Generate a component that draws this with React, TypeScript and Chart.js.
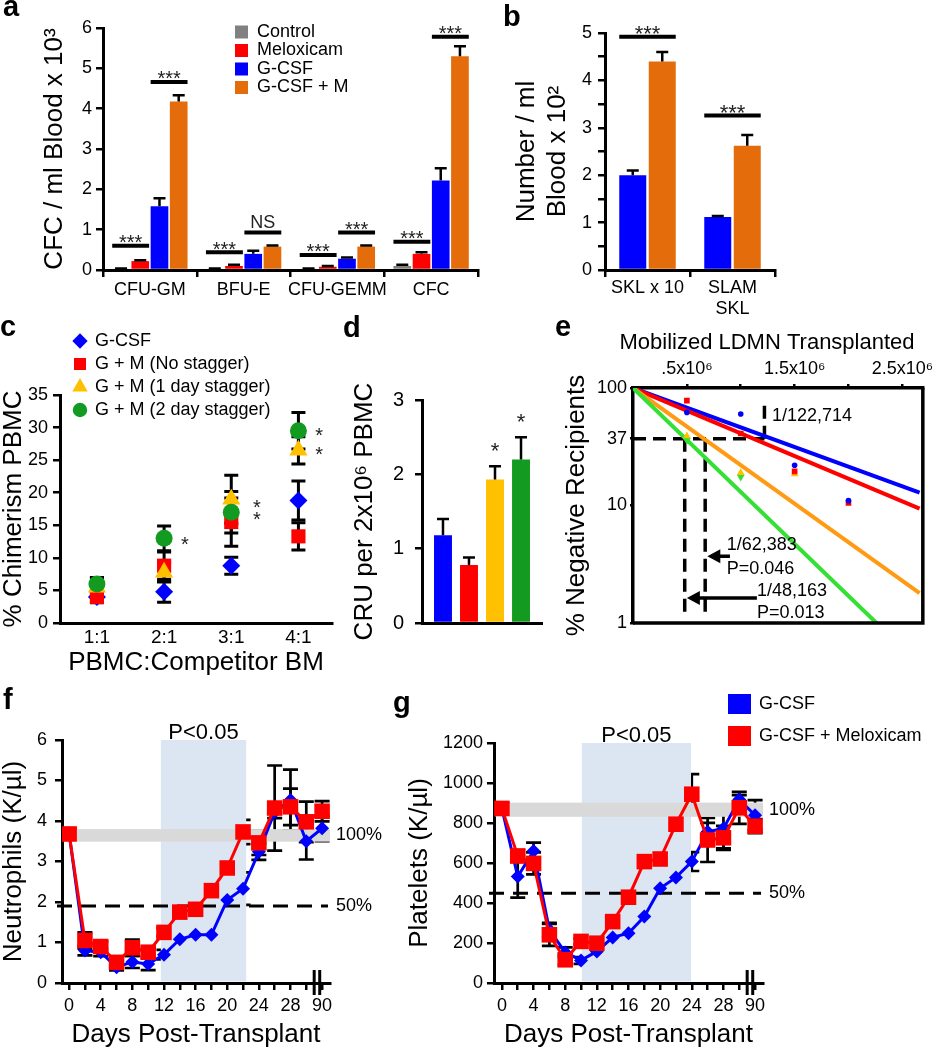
import React, { useEffect, useRef } from 'react';
import { Chart, registerables } from 'chart.js';

Chart.register(...registerables);

const PAGE_W = 938;
const PAGE_H = 1050;
const FONT = "'Liberation Sans', 'DejaVu Sans', Arial, sans-serif";
Chart.defaults.font.family = FONT;
Chart.defaults.color = '#000';

const BLUE = '#0000ff';
const RED = '#ff0000';
const GRAY = '#808080';
const ORANGE = '#e46c0a';
const YELLOW = '#ffc000';
const GREEN = '#139b21';
const LINE_ORANGE = '#ff9a12';
const LINE_GREEN = '#33e033';
const SHADE_BLUE = '#dce6f2';
const SHADE_GRAY = '#d9d9d9';

// ---------------- Panel a ----------------
const aCategories = ['CFU-GM', 'BFU-E', 'CFU-GEMM', 'CFC'];
const aSeriesNames = ['Control', 'Meloxicam', 'G-CSF', 'G-CSF + M'];
const aControl = [0.03, 0.03, 0.03, 0.1];
const aMeloxicam = [0.22, 0.1, 0.08, 0.4];
const aGcsf = [1.58, 0.4, 0.28, 2.22];
const aGcsfM = [4.18, 0.58, 0.58, 5.3];
const aControlErr = [0.01, 0.01, 0.01, 0.03];
const aMeloxicamErr = [0.02, 0.03, 0.02, 0.04];
const aGcsfErr = [0.2, 0.08, 0.03, 0.3];
const aGcsfMErr = [0.15, 0.03, 0.03, 0.25];
const aSigCategory = [0, 0, 1, 1, 2, 2, 3, 3];
const aSigFrom = [0, 2, 0, 2, 0, 2, 0, 2];
const aSigTo = [1, 3, 1, 3, 1, 3, 1, 3];
const aSigLevel = [0.6, 4.66, 0.44, 0.93, 0.37, 0.93, 0.7, 5.78];
const aSigLabel = ['***', '***', '***', 'NS', '***', '***', '***', '***'];

// ---------------- Panel b ----------------
const bCategories: (string | string[])[] = ['SKL x 10', ['SLAM', 'SKL']];
const bGcsf = [2.0, 1.12];
const bGcsfM = [4.4, 2.62];
const bGcsfErr = [0.1, 0.02];
const bGcsfMErr = [0.2, 0.23];
const bSigCategory = [0, 1];
const bSigLevel = [4.92, 3.26];
const bSigLabel = ['***', '***'];

// ---------------- Panel c ----------------
const cRatios = ['1:1', '2:1', '3:1', '4:1'];
const cPositions = [1, 2, 3, 4];
const cSeriesNames = ['G-CSF', 'G + M (No stagger)', 'G + M (1 day stagger)', 'G + M (2 day stagger)'];
const cGcsf = [4.0, 4.8, 8.8, 18.8];
const cGcsfErr = [0.5, 1.6, 1.3, 3.0];
const cNoStagger = [4.0, 8.8, 15.5, 13.3];
const cNoStaggerErr = [0.9, 2.1, 3.7, 2.1];
const cOneDay = [5.5, 7.8, 19.0, 26.5];
const cOneDayErr = [1.5, 1.5, 3.7, 2.1];
const cTwoDay = [6.0, 13.0, 17.0, 29.5];
const cTwoDayErr = [1.0, 1.9, 3.2, 2.8];
const cStarX = [2.31, 3.38, 3.38, 4.31, 4.31];
const cStarY = [12.8, 18.4, 16.6, 29.5, 26.6];

// ---------------- Panel d ----------------
const dGroups = ['G-CSF', 'G + M (No stagger)', 'G + M (1 day stagger)', 'G + M (2 day stagger)'];
const dCru = [1.18, 0.78, 1.93, 2.2];
const dCruErr = [0.22, 0.1, 0.18, 0.3];
const dSignificant = [false, false, true, true];

// ---------------- Panel e ----------------
const eFitNames = ['G-CSF', 'G + M (No stagger)', 'G + M (1 day stagger)', 'G + M (2 day stagger)'];
const eFitEndX = [2.66, 2.66, 2.66, 2.26];
const eFitEndY = [12.9, 9.4, 1.8, 1.0];
const eFitStartX = 0;
const eFitStartY = 100;
const eDoses = [0.5, 1.0, 1.5, 2.0];
const eBlueObs = [62, 60, 22, 11];
const eRedObs = [78, 41, 19.5, 10.5];
const eYellowObs = [39, 19, 18.5];
const eGreenObs = [36, 17.5];
const eYTicks = [1, 10, 37, 100];
const eXTicks = [0.5, 1, 1.5, 2, 2.5];
const eXLabels: Record<string, string> = { '0.5': '.5x10⁶', '1.5': '1.5x10⁶', '2.5': '2.5x10⁶' };
const eGuideX = [[0, 1.22], [1.22, 1.22], [0.48, 0.48], [0.67, 0.67]];
const eGuideY = [[37, 37], [37, 80], [37, 1.13], [37, 1.13]];
const eArrowFrom = [0.9, 1.15];
const eArrowTo = [0.69, 0.5];
const eArrowY = [3.7, 1.63];
const eNoteText = ['1/122,714', '1/62,383', 'P=0.046', '1/48,163', 'P=0.013'];
const eNoteX = [1.29, 0.87, 0.87, 1.15, 1.15];
const eNoteY = [58, 4.6, 2.9, 1.87, 1.22];

// ---------------- Panels f & g ----------------
const tDays = [0, 2, 4, 6, 8, 10, 12, 14, 16, 18, 20, 22, 24, 26, 28, 30, 90];
const tBreakDay = 90;
const tBreakPos = 32;
const tXTicks = [0, 2, 4, 6, 8, 10, 12, 14, 16, 18, 20, 22, 24, 26, 28, 30, 32];
const fBlue = [3.7, 0.8, 0.76, 0.39, 0.52, 0.47, 0.7, 1.08, 1.19, 1.19, 2.05, 2.33, 3.24, 4.22, 4.52, 3.5, 3.82];
const fRed = [3.68, 1.05, 0.9, 0.51, 0.87, 0.76, 1.25, 1.75, 1.82, 2.28, 2.84, 3.73, 3.46, 4.32, 4.35, 3.98, 4.24];
const fBlueErr = [0.1, 0.12, 0.1, 0.08, 0.15, 0.15, 0.12, 0.2, 0.2, 0.12, 0.36, 0.4, 0.2, 0.15, 0.75, 0.45, 0.32];
const fRedErr = [0.12, 0.2, 0.12, 0.1, 0.2, 0.1, 0.1, 0.3, 0.08, 0.12, 0.15, 0.3, 0.3, 1.05, 0.45, 0.5, 0.25];
const fBand = [11.6, 22.4];
const fNormal = [3.49, 3.8];
const fHalf = 1.9;
const gBlue = [873, 532, 660, 266, 153, 113, 158, 228, 249, 332, 474, 528, 607, 756, 773, 917, 839];
const gRed = [873, 635, 598, 241, 116, 208, 199, 307, 429, 607, 620, 794, 944, 715, 726, 876, 784];
const gBlueErr = [25, 105, 42, 35, 25, 17, 20, 50, 50, 50, 50, 62, 47, 45, 100, 22, 75];
const gRedErr = [25, 30, 55, 55, 25, 15, 20, 30, 36, 83, 70, 55, 100, 110, 60, 80, 35];
const gBand = [10.1, 23.9];
const gNormal = [831, 902];
const gHalf = 449;
const tBreakMarks = [31.0, 31.7];
const tSeriesNames = ['G-CSF', 'G-CSF + Meloxicam'];

// ---------------- helpers ----------------
type Box = { l: number; t: number; r: number; b: number };
function padding(box: Box, yW: number, xH: number, xTop = false) {
  return {
    left: box.l - yW,
    right: PAGE_W - box.r,
    top: xTop ? box.t - xH : box.t,
    bottom: xTop ? PAGE_H - box.b : PAGE_H - box.b - xH,
  };
}
function ticksOpts(size: number, pad: number, extra: any = {}) {
  return { color: '#000', font: { family: FONT, size }, padding: pad, autoSkip: false, maxRotation: 0, minRotation: 0, ...extra };
}
function gridOpts(tickLen: number, extra: any = {}) {
  return { drawOnChartArea: false, drawTicks: tickLen > 0, tickLength: tickLen, color: '#000', lineWidth: 2.5, ...extra };
}
const axisBorder = { display: true, color: '#000', width: 3 };
function titleOpts(text: string | string[], size = 26, lineHeight = 1) {
  return { display: true, text, color: '#000', font: { family: FONT, size, lineHeight }, padding: 0 };
}
const fixWidth = (w: number) => (s: any) => { s.width = w; };
const fixHeight = (h: number) => (s: any) => { s.height = h; };
const fixTicks = (list: number[]) => (s: any) => { s.ticks = list.map((value) => ({ value })); };
const plainNumber = (v: number) => String(v);
function baseOptions(pad: any, scales: any) {
  return {
    responsive: false,
    maintainAspectRatio: false,
    animation: false,
    events: [],
    layout: { padding: pad },
    plugins: { legend: { display: false }, tooltip: { enabled: false }, title: { display: false } },
    scales,
  };
}
const xy = (xs: number[], ys: number[]) => ys.map((y, i) => ({ x: xs[i], y }));

function errorBarPlugin(id: string, errs: number[][], o: { both: boolean; cap: number; width: number; before?: boolean }) {
  const draw = (chart: any) => {
    const ctx = chart.ctx;
    const ys = chart.scales.y;
    ctx.save();
    ctx.strokeStyle = '#000';
    ctx.lineWidth = o.width;
    errs.forEach((list, di) => {
      const meta = chart.getDatasetMeta(di);
      const data = chart.data.datasets[di].data;
      list.forEach((e, j) => {
        const el = meta.data[j];
        if (!el) return;
        const raw = data[j];
        const v = typeof raw === 'number' ? raw : raw.y;
        const x = el.x;
        const top = ys.getPixelForValue(v + e);
        const bot = ys.getPixelForValue(o.both ? v - e : v);
        ctx.beginPath();
        ctx.moveTo(x, bot);
        ctx.lineTo(x, top);
        ctx.moveTo(x - o.cap / 2, top);
        ctx.lineTo(x + o.cap / 2, top);
        if (o.both) {
          ctx.moveTo(x - o.cap / 2, bot);
          ctx.lineTo(x + o.cap / 2, bot);
        }
        ctx.stroke();
      });
    });
    ctx.restore();
  };
  return o.before ? { id, beforeDatasetsDraw: draw } : { id, afterDatasetsDraw: draw };
}

function drawStar(ctx: any, text: string, x: number, glyphCenterY: number, size: number) {
  ctx.font = `${size}px ${FONT}`;
  ctx.textAlign = 'center';
  ctx.textBaseline = 'alphabetic';
  ctx.fillText(text, x, glyphCenterY + 0.565 * size);
}

function sigPlugin(id: string, cats: number[], from: number[], to: number[], levels: number[], labels: string[], starSize: number) {
  return {
    id,
    afterDatasetsDraw(chart: any) {
      const ctx = chart.ctx;
      const ys = chart.scales.y;
      ctx.save();
      cats.forEach((c, i) => {
        const b1 = chart.getDatasetMeta(from[i]).data[c];
        const b2 = chart.getDatasetMeta(to[i]).data[c];
        const x1 = b1.x - b1.width / 2;
        const x2 = b2.x + b2.width / 2;
        const py = ys.getPixelForValue(levels[i]);
        ctx.strokeStyle = '#000';
        ctx.lineWidth = 4;
        ctx.beginPath();
        ctx.moveTo(x1, py);
        ctx.lineTo(x2, py);
        ctx.stroke();
        ctx.fillStyle = '#222';
        if (labels[i] === 'NS') {
          ctx.font = `18px ${FONT}`;
          ctx.textAlign = 'center';
          ctx.textBaseline = 'alphabetic';
          ctx.fillText('NS', (x1 + x2) / 2, py - 4);
        } else {
          drawStar(ctx, labels[i], (x1 + x2) / 2, py - 8, starSize);
        }
      });
      ctx.restore();
    },
  };
}

function drawMarker(ctx: any, style: string, x: number, y: number, r: number, color: string) {
  ctx.fillStyle = color;
  ctx.beginPath();
  if (style === 'rectRot') {
    ctx.moveTo(x, y - r); ctx.lineTo(x + r, y); ctx.lineTo(x, y + r); ctx.lineTo(x - r, y);
  } else if (style === 'rect') {
    const s = Math.SQRT1_2 * r;
    ctx.rect(x - s, y - s, 2 * s, 2 * s);
  } else if (style === 'triangle') {
    for (let k = 0; k < 3; k++) {
      const a = (k * 2 * Math.PI) / 3;
      const px = x + Math.sin(a) * r;
      const py = y - Math.cos(a) * r;
      if (k === 0) ctx.moveTo(px, py); else ctx.lineTo(px, py);
    }
  } else {
    ctx.arc(x, y, r, 0, Math.PI * 2);
  }
  ctx.closePath();
  ctx.fill();
}

// ---------------- chart factories ----------------
function makeA() {
  const box = { l: 103, t: 28, r: 478, b: 270 };
  const yW = 61, xH = 40;
  const values = [aControl, aMeloxicam, aGcsf, aGcsfM];
  const errs = [aControlErr, aMeloxicamErr, aGcsfErr, aGcsfMErr];
  const colors = [GRAY, RED, BLUE, ORANGE];
  const legendPlugin = {
    id: 'aLegend',
    afterDraw(chart: any) {
      const ctx = chart.ctx;
      const ca = chart.chartArea;
      ctx.save();
      aSeriesNames.forEach((name, i) => {
        const cy = ca.top + 4 + i * 18.5;
        ctx.fillStyle = colors[i];
        ctx.fillRect(ca.left + 132, cy - 6.5, 13, 13);
        ctx.fillStyle = '#000';
        ctx.font = `18px ${FONT}`;
        ctx.textAlign = 'left';
        ctx.textBaseline = 'middle';
        ctx.fillText(name, ca.left + 154, cy);
      });
      ctx.restore();
    },
  };
  return {
    type: 'bar',
    data: {
      labels: aCategories,
      datasets: values.map((d, i) => ({
        label: aSeriesNames[i], data: d, backgroundColor: colors[i], borderWidth: 0,
        categoryPercentage: 0.82, barPercentage: 0.92,
      })),
    },
    options: baseOptions(padding(box, yW, xH), {
      x: { afterFit: fixHeight(xH), border: axisBorder, grid: gridOpts(7), ticks: ticksOpts(18, 2) },
      y: {
        min: 0, max: 6, afterFit: fixWidth(yW), border: axisBorder, grid: gridOpts(7),
        ticks: ticksOpts(18, 4, { stepSize: 1 }), title: titleOpts('CFC / ml Blood x 10³'),
      },
    }),
    plugins: [
      errorBarPlugin('aErr', errs, { both: false, cap: 12, width: 2.5 }),
      sigPlugin('aSig', aSigCategory, aSigFrom, aSigTo, aSigLevel, aSigLabel, 20),
      legendPlugin,
    ],
  };
}

function makeB() {
  const box = { l: 605, t: 33, r: 775, b: 270 };
  const yW = 93.6, xH = 60;
  return {
    type: 'bar',
    data: {
      labels: bCategories,
      datasets: [
        { label: 'G-CSF', data: bGcsf, backgroundColor: BLUE, borderWidth: 0, categoryPercentage: 0.694, barPercentage: 0.915 },
        { label: 'G-CSF + M', data: bGcsfM, backgroundColor: ORANGE, borderWidth: 0, categoryPercentage: 0.694, barPercentage: 0.915 },
      ],
    },
    options: baseOptions(padding(box, yW, xH), {
      x: { afterFit: fixHeight(xH), border: axisBorder, grid: gridOpts(7), ticks: ticksOpts(18, 0) },
      y: {
        min: 0, max: 5, afterFit: fixWidth(yW), border: axisBorder, grid: gridOpts(7),
        ticks: ticksOpts(18, 6, { stepSize: 0.5, callback: (v: number) => (Number.isInteger(v) ? String(v) : '') }),
        title: titleOpts(['Number / ml', 'Blood x 10²'], 26, 1.2),
      },
    }),
    plugins: [
      errorBarPlugin('bErr', [bGcsfErr, bGcsfMErr], { both: false, cap: 12, width: 2.5 }),
      sigPlugin('bSig', bSigCategory, [0, 0], [1, 1], bSigLevel, bSigLabel, 22),
    ],
  };
}

function makeC() {
  const box = { l: 60, t: 395, r: 332, b: 623 };
  const yW = 59, xH = 53;
  const series = [cGcsf, cNoStagger, cOneDay, cTwoDay];
  const errs = [cGcsfErr, cNoStaggerErr, cOneDayErr, cTwoDayErr];
  const colors = [BLUE, RED, YELLOW, GREEN];
  const styles = ['rectRot', 'rect', 'triangle', 'circle'];
  const radii = [9, 10, 10.5, 8.5];
  const orders = [4, 3, 2, 1];
  const extras = {
    id: 'cExtras',
    afterDraw(chart: any) {
      const ctx = chart.ctx;
      const xs = chart.scales.x, ys = chart.scales.y;
      ctx.save();
      ctx.fillStyle = '#222';
      cStarX.forEach((x, i) => drawStar(ctx, '*', xs.getPixelForValue(x), ys.getPixelForValue(cStarY[i]), 20));
      cSeriesNames.forEach((name, i) => {
        const cy = 341 + i * 23;
        drawMarker(ctx, styles[i], 80, cy, radii[i] * 0.85, colors[i]);
        ctx.fillStyle = '#000';
        ctx.font = `18px ${FONT}`;
        ctx.textAlign = 'left';
        ctx.textBaseline = 'middle';
        ctx.fillText(name, 95, cy);
      });
      ctx.restore();
    },
  };
  return {
    type: 'scatter',
    data: {
      datasets: series.map((d, i) => ({
        label: cSeriesNames[i], data: xy(cPositions, d), backgroundColor: colors[i], borderColor: colors[i],
        pointStyle: styles[i], pointRadius: radii[i], pointBorderWidth: 0, order: orders[i],
      })),
    },
    options: baseOptions(padding(box, yW, xH), {
      x: {
        type: 'linear', min: 0.45, max: 4.5, afterFit: fixHeight(xH), afterBuildTicks: fixTicks(cPositions),
        border: axisBorder, grid: gridOpts(0),
        ticks: ticksOpts(19, 3, { callback: (v: number) => cRatios[cPositions.indexOf(v)] ?? '' }),
        title: titleOpts('PBMC:Competitor BM'),
      },
      y: {
        min: 0, max: 35, afterFit: fixWidth(yW), border: axisBorder, grid: gridOpts(7),
        ticks: ticksOpts(18, 5, { stepSize: 5 }), title: titleOpts('% Chimerism PBMC'),
      },
    }),
    plugins: [errorBarPlugin('cErr', errs, { both: true, cap: 14, width: 3, before: true }), extras],
  };
}

function makeD() {
  const box = { l: 422, t: 400, r: 542, b: 623 };
  const yW = 70, xH = 2;
  const colors = [BLUE, RED, YELLOW, GREEN];
  const stars = {
    id: 'dStars',
    afterDatasetsDraw(chart: any) {
      const ctx = chart.ctx;
      const ys = chart.scales.y;
      ctx.save();
      ctx.fillStyle = '#222';
      dSignificant.forEach((sig, i) => {
        if (!sig) return;
        const el = chart.getDatasetMeta(i).data[0];
        const top = ys.getPixelForValue(dCru[i] + dCruErr[i]);
        drawStar(ctx, '*', el.x, top - 21, 22);
      });
      ctx.restore();
    },
  };
  return {
    type: 'bar',
    data: {
      labels: [''],
      datasets: dCru.map((v, i) => ({
        label: dGroups[i], data: [v], backgroundColor: colors[i], borderWidth: 0,
        categoryPercentage: 0.867, barPercentage: 0.69,
      })),
    },
    options: baseOptions(padding(box, yW, xH), {
      x: { afterFit: fixHeight(xH), border: axisBorder, grid: { display: false }, ticks: { display: false } },
      y: {
        min: 0, max: 3, afterFit: fixWidth(yW), border: axisBorder, grid: gridOpts(7),
        ticks: ticksOpts(20, 11, { stepSize: 1 }), title: titleOpts('CRU per 2x10⁶ PBMC'),
      },
    }),
    plugins: [errorBarPlugin('dErr', dCruErr.map((e) => [e]), { both: false, cap: 12, width: 2.5 }), stars],
  };
}

function makeE() {
  const box = { l: 633, t: 388, r: 925, b: 623 };
  const yW = 69, xH = 56;
  const fitColors = [BLUE, RED, LINE_ORANGE, LINE_GREEN];
  const fits = fitColors.map((c, i) => ({
    label: eFitNames[i] + ' fit',
    data: [{ x: eFitStartX, y: eFitStartY }, { x: eFitEndX[i], y: eFitEndY[i] }],
    showLine: true, borderColor: c, borderWidth: 4, pointRadius: 0, order: 5 - i,
  }));
  const obs = [
    { label: 'G-CSF', data: xy(eDoses, eBlueObs), backgroundColor: BLUE, pointStyle: 'circle', pointRadius: 2.8, rotation: 0 },
    { label: 'G + M (No stagger)', data: xy(eDoses, eRedObs), backgroundColor: RED, pointStyle: 'rect', pointRadius: 4, rotation: 0 },
    { label: 'G + M (1 day stagger)', data: xy(eDoses, eYellowObs), backgroundColor: YELLOW, pointStyle: 'triangle', pointRadius: 4.5, rotation: 0 },
    { label: 'G + M (2 day stagger)', data: xy(eDoses, eGreenObs), backgroundColor: LINE_GREEN, pointStyle: 'triangle', pointRadius: 4.5, rotation: 180 },
  ].map((d) => ({ ...d, pointBorderWidth: 0, showLine: false, order: 0 }));
  const guides = eGuideX.map((xs, i) => ({
    label: 'guide' + i, data: xy(xs, eGuideY[i]), showLine: true, borderColor: '#000', borderWidth: 3.5,
    borderDash: [13, 7], pointRadius: 0, order: 6,
  }));
  const extras = {
    id: 'eExtras',
    afterDraw(chart: any) {
      const ctx = chart.ctx;
      const ca = chart.chartArea;
      const xs = chart.scales.x, ys = chart.scales.y;
      ctx.save();
      ctx.strokeStyle = '#000';
      ctx.lineWidth = 3.5;
      ctx.beginPath();
      ctx.moveTo(ca.left, ca.bottom);
      ctx.lineTo(ca.right, ca.bottom);
      ctx.lineTo(ca.right, ca.top);
      ctx.stroke();
      ctx.fillStyle = '#000';
      eArrowY.forEach((yv, i) => {
        const y = ys.getPixelForValue(yv);
        const x1 = xs.getPixelForValue(eArrowFrom[i]);
        const x2 = xs.getPixelForValue(eArrowTo[i]);
        ctx.lineWidth = 3.5;
        ctx.beginPath();
        ctx.moveTo(x1, y);
        ctx.lineTo(x2 + 10, y);
        ctx.stroke();
        ctx.beginPath();
        ctx.moveTo(x2, y);
        ctx.lineTo(x2 + 13, y - 7);
        ctx.lineTo(x2 + 13, y + 7);
        ctx.closePath();
        ctx.fill();
      });
      ctx.font = `18px ${FONT}`;
      ctx.textAlign = 'left';
      ctx.textBaseline = 'middle';
      eNoteText.forEach((t, i) => ctx.fillText(t, xs.getPixelForValue(eNoteX[i]), ys.getPixelForValue(eNoteY[i])));
      ctx.font = `22px ${FONT}`;
      ctx.textAlign = 'center';
      ctx.fillText('Mobilized LDMN Transplanted', ca.left + 134, ca.top - 45);
      ctx.restore();
    },
  };
  return {
    type: 'scatter',
    data: { datasets: [...obs, ...fits, ...guides] },
    options: baseOptions(padding(box, yW, xH, true), {
      x: {
        type: 'linear', position: 'top', min: 0, max: 2.69, afterFit: fixHeight(xH), afterBuildTicks: fixTicks(eXTicks),
        border: { ...axisBorder, width: 3.5 }, grid: gridOpts(4),
        ticks: ticksOpts(18, 4, { callback: (v: number) => eXLabels[String(v)] ?? '' }),
      },
      y: {
        type: 'logarithmic', min: 1, max: 100, afterFit: fixWidth(yW), afterBuildTicks: fixTicks(eYTicks),
        border: { ...axisBorder, width: 3.5 }, grid: gridOpts(3),
        ticks: ticksOpts(18, 3, { callback: plainNumber }),
        title: titleOpts('% Negative Recipients'),
      },
    }),
    plugins: [extras],
  };
}

function makeTime(p: {
  box: Box; yW: number; xMin: number; yMax: number; yStep: number; yTitle: string; yPad: number;
  blue: number[]; red: number[]; blueErr: number[]; redErr: number[];
  band: number[]; normal: number[]; half: number; legend: boolean; id: string;
}) {
  const xH = 65;
  const pos = (d: number) => (d === tBreakDay ? tBreakPos : d);
  const decor = {
    id: p.id + 'Decor',
    beforeDatasetsDraw(chart: any) {
      const ctx = chart.ctx;
      const ca = chart.chartArea;
      const xs = chart.scales.x, ys = chart.scales.y;
      ctx.save();
      const bx1 = xs.getPixelForValue(p.band[0]);
      const bx2 = xs.getPixelForValue(p.band[1]);
      ctx.fillStyle = SHADE_BLUE;
      ctx.fillRect(bx1, ca.top, bx2 - bx1, ca.bottom - ca.top - 1.5);
      const ny1 = ys.getPixelForValue(p.normal[1]);
      const ny2 = ys.getPixelForValue(p.normal[0]);
      ctx.fillStyle = SHADE_GRAY;
      ctx.fillRect(ca.left + 1.5, ny1, ca.right - ca.left - 1.5, ny2 - ny1);
      const hy = ys.getPixelForValue(p.half);
      ctx.strokeStyle = '#000';
      ctx.lineWidth = 3;
      ctx.setLineDash([15, 9]);
      ctx.beginPath();
      ctx.moveTo(ca.left - 5, hy);
      ctx.lineTo(ca.right - 2, hy);
      ctx.stroke();
      ctx.setLineDash([]);
      ctx.restore();
    },
    afterDraw(chart: any) {
      const ctx = chart.ctx;
      const ca = chart.chartArea;
      const xs = chart.scales.x, ys = chart.scales.y;
      ctx.save();
      ctx.fillStyle = '#000';
      ctx.font = `22px ${FONT}`;
      ctx.textAlign = 'center';
      ctx.textBaseline = 'alphabetic';
      ctx.fillText('P<0.05', xs.getPixelForValue((p.band[0] + p.band[1]) / 2), ca.top - 1);
      ctx.font = `18px ${FONT}`;
      ctx.textAlign = 'left';
      ctx.textBaseline = 'middle';
      ctx.fillText('100%', ca.right + 6, ys.getPixelForValue((p.normal[0] + p.normal[1]) / 2));
      ctx.fillText('50%', ca.right + 6, ys.getPixelForValue(p.half));
      ctx.strokeStyle = '#000';
      ctx.lineWidth = 3;
      tBreakMarks.forEach((d) => {
        const x = xs.getPixelForValue(d);
        ctx.beginPath();
        ctx.moveTo(x, ca.bottom - 13);
        ctx.lineTo(x, ca.bottom + 12);
        ctx.stroke();
      });
      if (p.legend) {
        [BLUE, RED].forEach((c, i) => {
          const cy = 704 + i * 32;
          ctx.fillStyle = c;
          ctx.fillRect(728, cy - 10, 23, 20);
          ctx.fillStyle = '#000';
          ctx.fillText(tSeriesNames[i], 759, cy);
        });
      }
      ctx.restore();
    },
  };
  return {
    type: 'scatter',
    data: {
      datasets: [
        {
          label: tSeriesNames[0], data: xy(tDays.map(pos), p.blue), showLine: true, borderColor: BLUE, backgroundColor: BLUE,
          borderWidth: 3, pointStyle: 'rectRot', pointRadius: 7, pointBorderWidth: 0, order: 2,
        },
        {
          label: tSeriesNames[1], data: xy(tDays.map(pos), p.red), showLine: true, borderColor: RED, backgroundColor: RED,
          borderWidth: 3, pointStyle: 'rect', pointRadius: 11, pointBorderWidth: 0, order: 1,
        },
      ],
    },
    options: baseOptions(padding(p.box, p.yW, xH), {
      x: {
        type: 'linear', min: p.xMin, max: 33, afterFit: fixHeight(xH), afterBuildTicks: fixTicks(tXTicks),
        border: axisBorder, grid: gridOpts(7),
        ticks: ticksOpts(18, 5, {
          callback: (v: number) => (v === tBreakPos ? String(tBreakDay) : v % 4 === 0 ? String(v) : ''),
        }),
        title: titleOpts('Days Post-Transplant'),
      },
      y: {
        min: 0, max: p.yMax, afterFit: fixWidth(p.yW), border: axisBorder, grid: gridOpts(7),
        ticks: ticksOpts(18, p.yPad, { stepSize: p.yStep, callback: plainNumber }), title: titleOpts(p.yTitle),
      },
    }),
    plugins: [errorBarPlugin(p.id + 'Err', [p.blueErr, p.redErr], { both: true, cap: 15, width: 2.7, before: true }), decor],
  };
}

const makeF = () =>
  makeTime({
    id: 'f', box: { l: 62, t: 740, r: 330, b: 983 }, yW: 61, xMin: -0.9, yMax: 6, yStep: 1, yTitle: 'Neutrophils (K/µl)', yPad: 8,
    blue: fBlue, red: fRed, blueErr: fBlueErr, redErr: fRedErr, band: fBand, normal: fNormal, half: fHalf, legend: false,
  });
const makeG = () =>
  makeTime({
    id: 'g', box: { l: 494, t: 743, r: 763, b: 983 }, yW: 87, xMin: -1.0, yMax: 1200, yStep: 200, yTitle: 'Platelets (K/µl)', yPad: 4,
    blue: gBlue, red: gRed, blueErr: gBlueErr, redErr: gRedErr, band: gBand, normal: gNormal, half: gHalf, legend: true,
  });

function ChartCanvas({ make }: { make: () => any }) {
  const ref = useRef<HTMLCanvasElement>(null);
  useEffect(() => {
    const chart = new Chart(ref.current as HTMLCanvasElement, make());
    return () => chart.destroy();
  }, [make]);
  return (
    <canvas
      ref={ref}
      width={PAGE_W}
      height={PAGE_H}
      style={{ position: 'absolute', left: 0, top: 0, width: PAGE_W, height: PAGE_H }}
    />
  );
}

const panelLetters = ['a', 'b', 'c', 'd', 'e', 'f', 'g'];
const letterX = [3, 503, 0, 343, 555, 3, 393];
const letterBaseline = [17, 27, 337, 338, 337, 710, 713];
const LETTER_SIZE = 29;

const makers = [makeA, makeB, makeC, makeD, makeE, makeF, makeG];

export default function App() {
  return (
    <div style={{ position: 'absolute', left: 0, top: 0, width: PAGE_W, height: PAGE_H, background: '#fff', overflow: 'hidden' }}>
      {makers.map((m, i) => (
        <ChartCanvas key={i} make={m} />
      ))}
      {panelLetters.map((t, i) => (
        <span
          key={t}
          style={{
            position: 'absolute',
            left: letterX[i],
            top: letterBaseline[i] - 0.8465 * LETTER_SIZE,
            font: `bold ${LETTER_SIZE}px ${FONT}`,
            lineHeight: `${LETTER_SIZE}px`,
            color: '#000',
          }}
        >
          {t}
        </span>
      ))}
    </div>
  );
}
